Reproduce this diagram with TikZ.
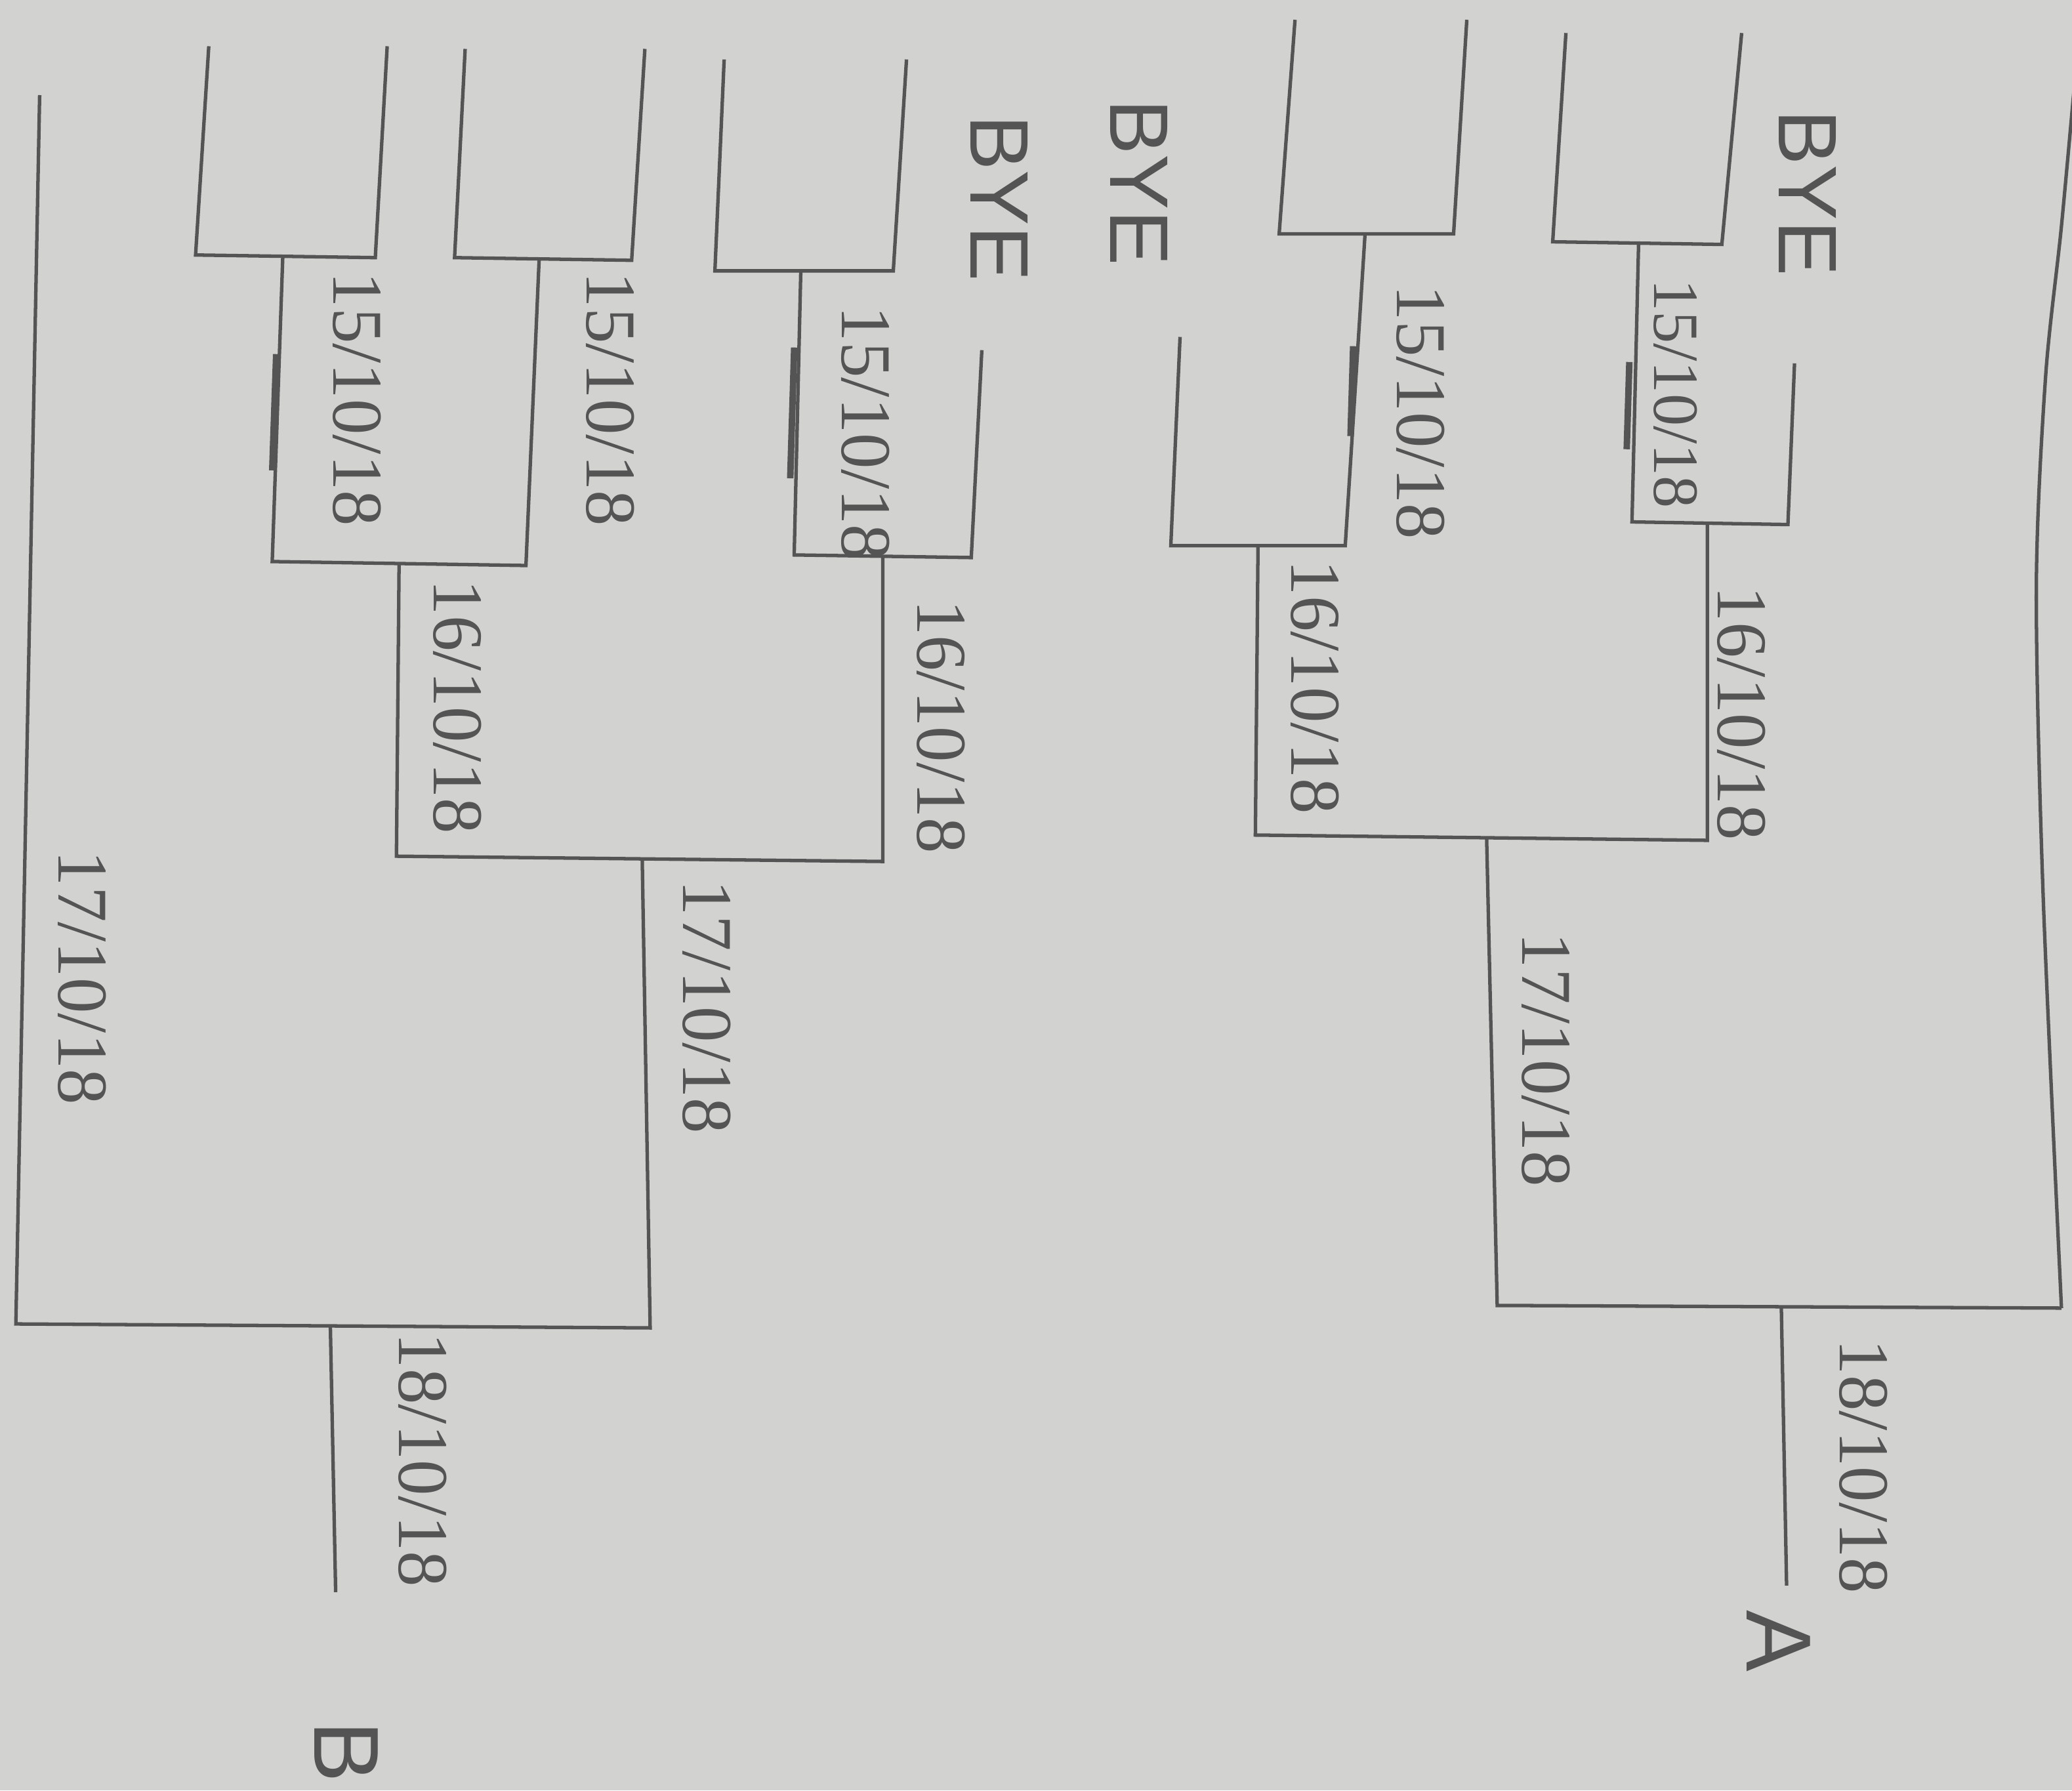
\documentclass[tikz,border=0pt]{standalone}
\usepackage{fontspec}
\newfontfamily\datefont{Liberation Serif}
\newfontfamily\capfont{Liberation Sans}
\definecolor{paper}{RGB}{210,210,208}
\definecolor{ink}{RGB}{84,84,84}

\begin{document}
\begin{tikzpicture}[
    x=0.02014cm, y=-0.02014cm,
    bline/.style={draw=ink, line width=1.5pt, line join=miter},
    overstroke/.style={draw=ink, line width=2.8pt},
    datelbl/.style={font=\datefont\fontsize{31}{31}\selectfont, text=ink, rotate=-90, inner sep=0pt},
    byelbl/.style={font=\capfont\fontsize{36}{36}\selectfont, text=ink, rotate=-90, inner sep=0pt},
    sidelbl/.style={font=\capfont\fontsize{40}{40}\selectfont, text=ink, rotate=-90, inner sep=0pt},
  ]

  % === Sheet ===
  \fill[paper] (0,0) rectangle (1568,1355);
  \useasboundingbox (0,0) rectangle (1568,1355);

  % === Side B: junction points ===
  \coordinate (m1)  at (214,194);
  \coordinate (m2)  at (408,196);
  \coordinate (m3)  at (606,205);
  \coordinate (q1)  at (302,427);
  \coordinate (q2)  at (668,421);
  \coordinate (s1)  at (486,650);
  \coordinate (f1)  at (250,1004);
  \coordinate (endB) at (254,1205);

  % === Side A: junction points ===
  \coordinate (m4)  at (1033,177);
  \coordinate (m5)  at (1240,184);
  \coordinate (q3)  at (952,413);
  \coordinate (q4)  at (1292,396);
  \coordinate (s2)  at (1125,634);
  \coordinate (f2)  at (1348,989);
  \coordinate (endA) at (1352,1200);
  \coordinate (f2br) at (1560,990);

  % === Side B: first round ===
  \draw[bline] (158,35) -- (148,193) -- (284,195) -- (293,35);
  \draw[bline] (352,37) -- (344,195) -- (478,197) -- (488,37);
  \draw[bline] (548,45) -- (541,205) -- (676,205) -- (686,45);

  % === Side B: later rounds ===
  \draw[bline] (m1) -- (206,425) -- (398,428) -- (m2);
  \draw[bline] (m3) -- (601,420) -- (735,422) -- (743,265);
  \draw[bline] (q1) -- (300,648) -- (668,652) -- (q2);
  \draw[bline] (30,72) -- (12,1002) -- (492,1005) -- (s1);
  \draw[bline] (f1) -- (endB);

  % === Side A: first round ===
  \draw[bline] (980,15) -- (968,177) -- (1100,177) -- (1110,15);
  \draw[bline] (1185,25) -- (1175,183) -- (1303,185) -- (1318,25);

  % === Side A: later rounds ===
  \draw[bline] (893,255) -- (886,413) -- (1018,413) -- (m4);
  \draw[bline] (m5) -- (1235,395) -- (1353,397) -- (1358,275);
  \draw[bline] (q3) -- (950,632) -- (1292,636) -- (q4);
  \draw[bline] (s2) -- (1133,988) -- (f2br);
  \draw[bline] plot[smooth] coordinates {(f2br) (1546,674) (1541,444) (1548,285) (1560,171) (1572,40)};
  \draw[bline] (f2) -- (endA);

  % === Pen marks ===
  \draw[overstroke] (209,268) -- (206,356);
  \draw[overstroke] (601,263) -- (598,362);
  \draw[overstroke] (1233,274) -- (1231,340);
  \draw[overstroke] (1024,262) -- (1022,330);

  % === Dates, side B ===
  \node[datelbl] (b15a) at (270,302)  {15/10/18};
  \node[datelbl] (b15b) at (462,302)  {15/10/18};
  \node[datelbl] (b15c) at (655,328)  {15/10/18};
  \node[datelbl] (b16a) at (346,535)  {16/10/18};
  \node[datelbl] (b16b) at (712,550)  {16/10/18};
  \node[datelbl] (b17a) at (62,740)   {17/10/18};
  \node[datelbl] (b17b) at (535,762)  {17/10/18};
  \node[datelbl] (b18)  at (320,1105) {18/10/18};

  % === Dates, side A ===
  \node[datelbl] (a15a) at (1075,312) {15/10/18};
  \node[datelbl, font=\datefont\fontsize{28}{28}\selectfont] (a15b) at (1268,298) {15/10/18};
  \node[datelbl] (a16a) at (995,520)  {16/10/18};
  \node[datelbl] (a16b) at (1318,540) {16/10/18};
  \node[datelbl] (a17)  at (1170,802) {17/10/18};
  \node[datelbl] (a18)  at (1410,1110) {18/10/18};

  % === Byes and sides ===
  \node[byelbl] (byeB)  at (756,150)  {BYE};
  \node[byelbl] (byeA1) at (862,138)  {BYE};
  \node[byelbl] (byeA2) at (1368,146) {BYE};
  \node[sidelbl] (sideA) at (1346,1242) {A};
  \node[sidelbl] (sideB) at (262,1326)  {B};

\end{tikzpicture}
\end{document}
